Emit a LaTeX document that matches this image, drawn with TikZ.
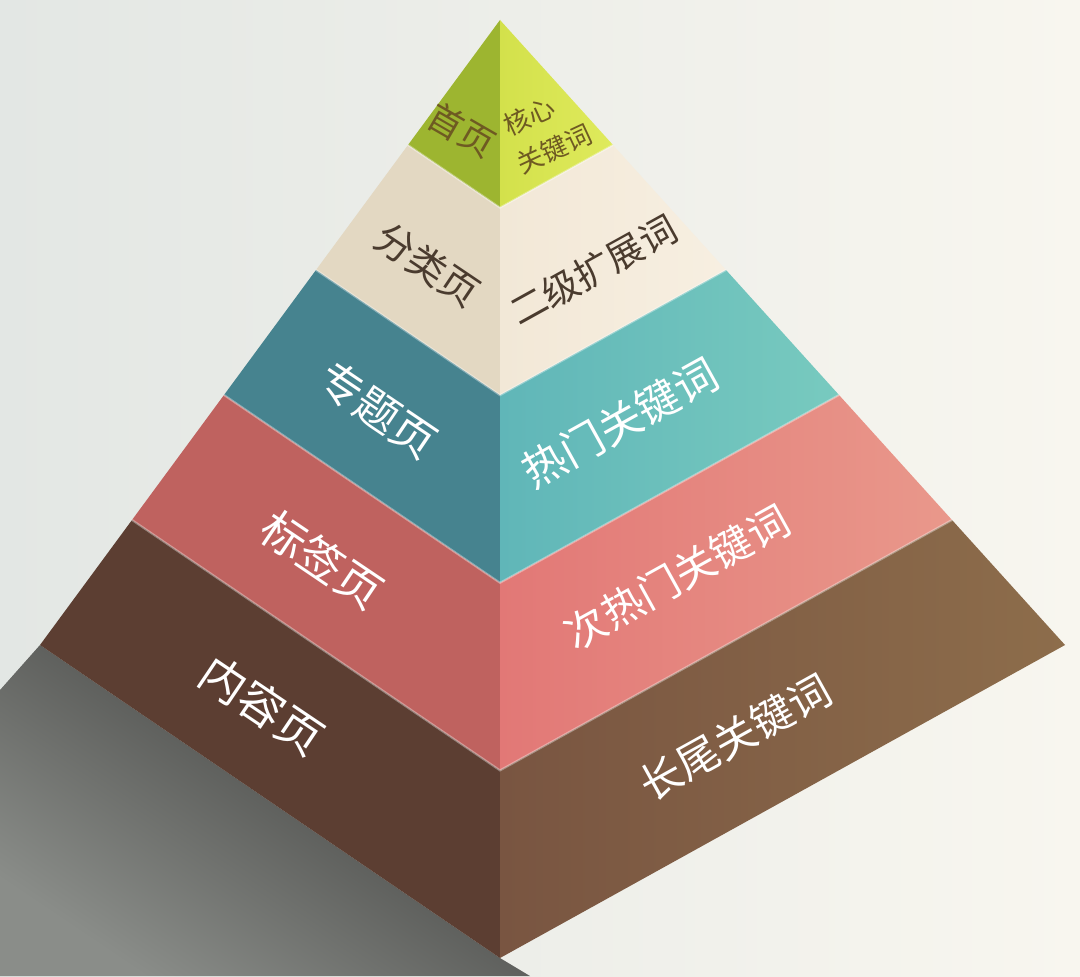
\documentclass[tikz,border=0pt]{standalone}
\usepackage{fontspec}
\newfontfamily\cjk{Noto Sans CJK SC}
\usetikzlibrary{calc}

\definecolor{bgL}{HTML}{E3E7E4}
\definecolor{bgR}{HTML}{F8F6EF}
\definecolor{shadowD}{HTML}{393937}
\definecolor{shadowL}{HTML}{8A8D89}
\definecolor{greenL}{HTML}{9DB530}
\definecolor{greenR}{HTML}{D3E14B}
\definecolor{greenRR}{HTML}{DFEA5C}
\definecolor{beigeL}{HTML}{E3D8C2}
\definecolor{beigeR}{HTML}{F2E8D7}
\definecolor{beigeRR}{HTML}{F7EFE1}
\definecolor{tealL}{HTML}{46838F}
\definecolor{tealR}{HTML}{60B6B8}
\definecolor{tealRR}{HTML}{78CABF}
\definecolor{pinkL}{HTML}{BF625F}
\definecolor{pinkR}{HTML}{E27876}
\definecolor{pinkRR}{HTML}{E9988B}
\definecolor{brownL}{HTML}{5C3E32}
\definecolor{brownR}{HTML}{795541}
\definecolor{brownRR}{HTML}{8D6D4B}
\definecolor{inkTop}{HTML}{6E5A22}
\definecolor{inkBeige}{HTML}{4A3B2E}

\tikzset{
	lefttext/.style={rotate=-34, inner sep=0pt, text=white},
	righttext/.style={rotate=29, inner sep=0pt, text=white},
}

\begin{document}
\begin{tikzpicture}
	\def\dxl{0.92}
	\def\dxr{1.13}
	\def\dyo{1.25}
	\def\dyc{1.876}
	\useasboundingbox (0,0) rectangle (10.8,-9.76);
	\shade[left color=bgL, right color=bgR] (0,0) rectangle (10.8,-9.76);
	\path (5,-0.2) coordinate (l0) coordinate (c0) coordinate (r0);
	\foreach \k in {1,...,5} {
		\path ($(c0)+(-\k*\dxl,-\k*\dyo)$) coordinate (l\k);
		\path ($(c0)+(0,-\k*\dyc)$) coordinate (c\k);
		\path ($(c0)+(\k*\dxr,-\k*\dyo)$) coordinate (r\k);
	}
	
	% shadow on the floor
	\shade[top color=shadowD, bottom color=shadowL, shading angle=-34]
		(l5) -- (0,-6.9) -- (0,-9.76) -- (5.3,-9.76) -- (c5) -- cycle;
	
	\foreach \k/\cl/\cr/\crr in {1/greenL/greenR/greenRR, 2/beigeL/beigeR/beigeRR, 3/tealL/tealR/tealRR, 4/pinkL/pinkR/pinkRR, 5/brownL/brownR/brownRR} {
		\pgfmathtruncatemacro{\j}{\k-1}
		\fill[\cl] (l\j) -- (c\j) -- (c\k) -- (l\k) -- cycle;
		\shade[left color=\cr, right color=\crr] (c\j) -- (r\j) -- (r\k) -- (c\k) -- cycle;
	}
	% light seams between the layers
	\foreach \k in {1,...,4} {
		\draw[white, opacity=0.35, line width=0.6pt] (l\k) -- (c\k) -- (r\k);
	}
	
	\node[rotate=-30, inner sep=0pt, text=inkTop, font=\cjk\fontsize{10}{10}\selectfont] (shouye) at (4.62,-1.30) {首页};
	\node[rotate=25, inner sep=0pt, text=inkTop, font=\cjk\fontsize{7.5}{7.5}\selectfont] (hexin) at (5.29,-1.16) {核心};
	\node[rotate=25, inner sep=0pt, text=inkTop, font=\cjk\fontsize{7.5}{7.5}\selectfont] (hexinkw) at (5.54,-1.49) {关键词};
	\node[lefttext, text=inkBeige, font=\cjk\fontsize{11}{11}\selectfont] (fenlei) at (4.28,-2.65) {分类页};
	\node[righttext, text=inkBeige, font=\cjk\fontsize{10.5}{10.5}\selectfont] (erji) at (5.93,-2.70) {二级扩展词};
	\node[lefttext, font=\cjk\fontsize{12.5}{12.5}\selectfont] (zhuanti) at (3.78,-4.10) {专题页};
	\node[righttext, font=\cjk\fontsize{12.3}{12.3}\selectfont] (remen) at (6.20,-4.23) {热门关键词};
	\node[lefttext, font=\cjk\fontsize{12.8}{12.8}\selectfont] (biaoqian) at (3.22,-5.60) {标签页};
	\node[righttext, font=\cjk\fontsize{11.8}{11.8}\selectfont] (ciremen) at (6.77,-5.77) {次热门关键词};
	\node[lefttext, font=\cjk\fontsize{13}{13}\selectfont] (neirong) at (2.62,-7.05) {内容页};
	\node[righttext, font=\cjk\fontsize{12}{12}\selectfont] (changwei) at (7.35,-7.37) {长尾关键词};
\end{tikzpicture}
\end{document}
